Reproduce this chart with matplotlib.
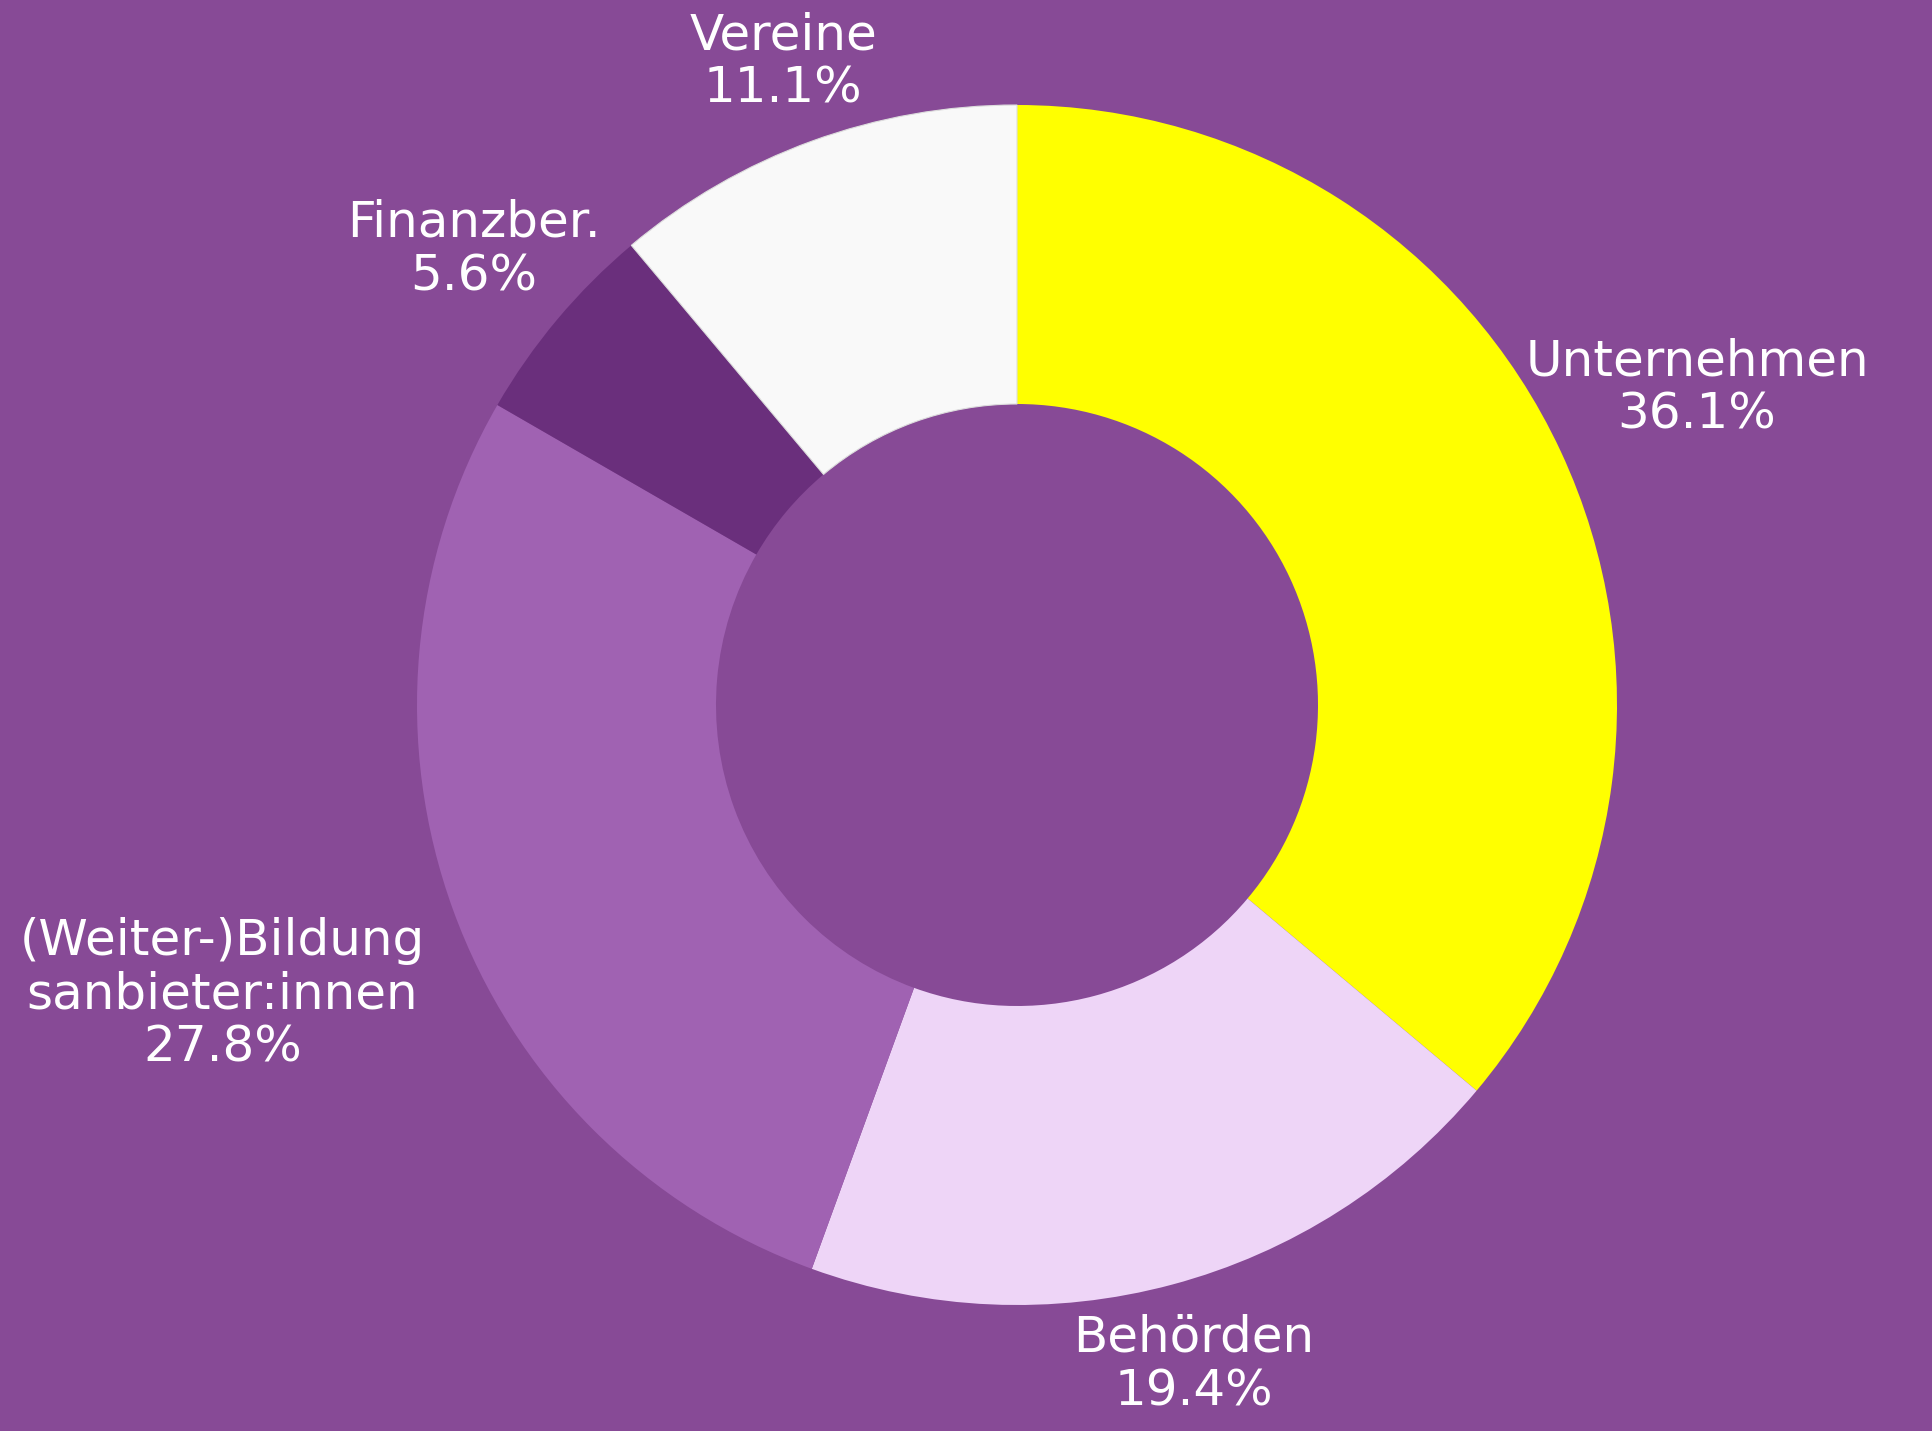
import matplotlib.pyplot as plt
import numpy as np

labels = ['Unternehmen', 'Behörden', '(Weiter-)Bildung\nsanbieter:innen', 'Finanzber.', 'Vereine']
counts = [13, 7, 10, 2, 4]
colors = ['#FFFF00', '#EED5F7', '#A062B2', '#6A2F7C', '#F9F9F9']
bg = '#874A96'

W, H = 1933, 1431
fig = plt.figure(figsize=(W / 100, H / 100), dpi=100, facecolor=bg)
ax = fig.add_axes([0, 0, 1, 1])
ax.set_facecolor(bg)

cx, cy = 1017, H - 705
R = 600
wedges, _ = ax.pie(counts, colors=colors, startangle=90, counterclock=False,
                   radius=R, center=(cx, cy), frame=True,
                   wedgeprops=dict(width=R - 301, linewidth=0))
ax.set_xlim(0, W)
ax.set_ylim(0, H)
ax.axis('off')
# thin border at the top between Vereine and Unternehmen
wedges[-1].set_edgecolor('#dddddd')
wedges[-1].set_linewidth(0.8)

total = sum(counts)
texts = []
for lab, v in zip(labels, counts):
    t = ax.text(0, 0, f'{lab}\n{v / total * 100:.1f}%', ha='center', va='center',
                color='white', fontsize=36, family='DejaVu Sans', linespacing=1.15)
    texts.append(t)

# put each label on the mid-angle ray, just outside the ring
fig.canvas.draw()
rend = fig.canvas.get_renderer()
cum = np.cumsum([0] + counts[:-1])
pad = 30
for t, c0, v in zip(texts, cum, counts):
    a = np.deg2rad(90 - (c0 + v / 2) / total * 360)
    bb = t.get_window_extent(rend)
    ca, sa = abs(np.cos(a)), abs(np.sin(a))
    ext = min(bb.width / 2 / max(ca, 1e-6), bb.height / 2 / max(sa, 1e-6))
    d = R + pad + ext
    t.set_position((cx + d * np.cos(a), cy + d * np.sin(a)))

plt.savefig('out.png', dpi=100, facecolor=bg)
plt.close()
